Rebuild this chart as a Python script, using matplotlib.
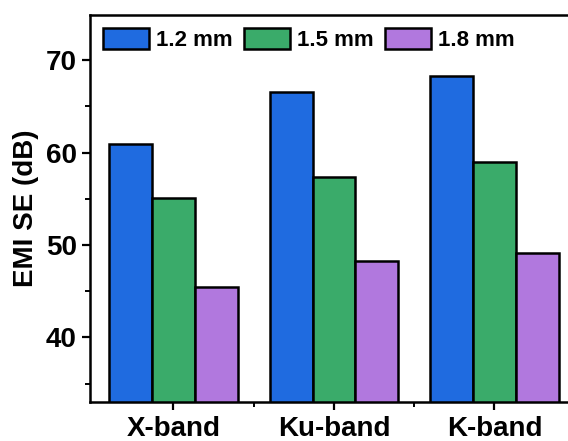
import matplotlib
matplotlib.use("Agg")
import matplotlib.pyplot as plt
import numpy as np

bands = ["X-band", "Ku-band", "K-band"]
thickness = ["1.2 mm", "1.5 mm", "1.8 mm"]
se_12 = [60.9, 66.5, 68.3]
se_15 = [55.1, 57.3, 59.0]
se_18 = [45.5, 48.3, 49.1]
colors = ["#1f6be0", "#3aab6a", "#b178de"]

plt.rcParams.update({"font.family": ["Liberation Sans", "DejaVu Sans"], "font.weight": "bold"})

fig = plt.figure(figsize=(5.68, 4.41), dpi=100)
ax = fig.add_axes([0.1585, 0.0884, 0.859, 0.878])

x = np.arange(len(bands))
w = 0.267
for i, (vals, lbl) in enumerate(zip([se_12, se_15, se_18], thickness)):
    ax.bar(x + (i - 1) * w, vals, w, color=colors[i], edgecolor="black", linewidth=1.8, label=lbl)

ax.set_xlim(-0.52, 2.52)
ax.set_ylim(33, 74.9)
ax.set_xticks(x)
ax.set_xticklabels(bands, fontsize=20, fontweight="bold")
ax.set_xticks([0.5, 1.5], minor=True)
ax.set_yticks([40, 50, 60, 70])
ax.set_yticks([35, 45, 55, 65], minor=True)
ax.tick_params(axis="y", labelsize=20, width=1.6, length=6, direction="out")
ax.tick_params(axis="x", width=1.6, length=6, direction="out", pad=4)
ax.tick_params(which="minor", width=1.4, length=3.5, direction="out")
for lab in ax.get_yticklabels():
    lab.set_fontweight("bold")
ax.set_ylabel("EMI SE (dB)", fontsize=20, fontweight="bold", labelpad=5)
for s in ax.spines.values():
    s.set_linewidth(1.8)

ax.legend(loc="upper left", ncol=3, frameon=False,
          handlelength=2.07, handleheight=1.08, handletextpad=0.32,
          columnspacing=0.5, borderaxespad=0.3, borderpad=0.3,
          prop={"weight": "bold", "size": 16})

fig.savefig("out.png", dpi=100)
